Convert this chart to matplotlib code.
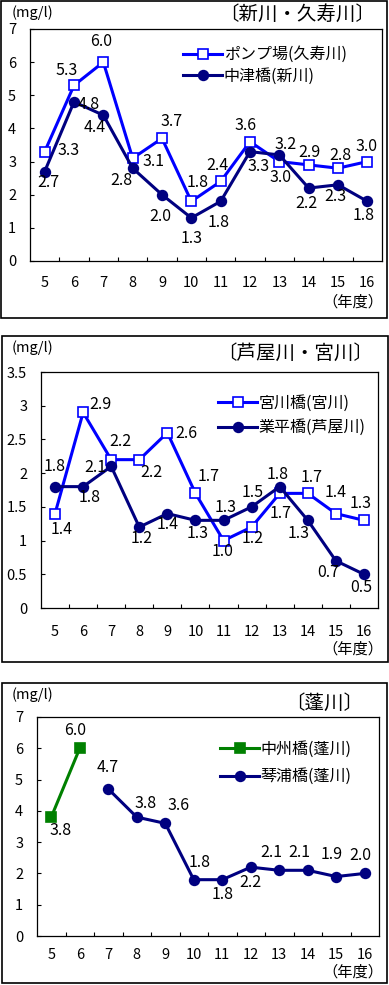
import numpy as np
import matplotlib
matplotlib.use("Agg")
import matplotlib.pyplot as plt
from matplotlib.patches import Rectangle
from matplotlib.ticker import FixedLocator

plt.rcParams['font.family'] = ['Noto Sans CJK JP', 'DejaVu Sans']

years = ["5", "6", "7", "8", "9", "10", "11", "12", "13", "14", "15", "16"]

# 新川・久寿川
pump_kusu = [3.3, 5.3, 6.0, 3.1, 3.7, 1.8, 2.4, 3.6, 3.0, 2.9, 2.8, 3.0]
nakatsu_shin = [2.7, 4.8, 4.4, 2.8, 2.0, 1.3, 1.8, 3.3, 3.2, 2.2, 2.3, 1.8]

# 芦屋川・宮川
miyagawa = [1.4, 2.9, 2.2, 2.2, 2.6, 1.7, 1.0, 1.2, 1.7, 1.7, 1.4, 1.3]
narihira = [1.8, 1.8, 2.1, 1.2, 1.4, 1.3, 1.3, 1.5, 1.8, 1.3, 0.7, 0.5]

# 蓬川
nakasu = [3.8, 6.0, None, None, None, None, None, None, None, None, None, None]
kotoura = [None, None, 4.7, 3.8, 3.6, 1.8, 1.8, 2.2, 2.1, 2.1, 1.9, 2.0]

# label offsets in pixels (dx right, dy up)
off_pump = [(24, 1), (-7, 15), (-2, 21), (21, -3), (10, 17), (6, 19),
            (-3, 16), (-4, 16), (1, -16), (1, 12), (2, 13), (-1, 15)]
off_naka = [(4, -11), (15, -3), (-9, -12), (-11, -12), (-2, -22), (0, -21),
            (-2, -21), (9, -15), (6, 10), (-2, -15), (-3, -12), (-4, -14)]
off_miya = [(7, -16), (17, 8), (9, 18), (12, -13), (19, -1), (13, 17),
            (-1, -11), (1, -11), (1, -20), (4, 16), (0, 21), (-3, 17)]
off_nari = [(0, 20), (7, -11), (-16, -1), (2, -11), (0, -11), (2, -13),
            (2, 13), (1, 14), (-2, 12), (-9, -13), (-8, -12), (-3, -13)]
off_nakasu = [(9, -13), (-5, 18)] + [(0, 0)] * 10
off_koto = [(0, 0), (0, 0), (-1, 21), (9, 14), (13, 18), (6, 17),
            (0, -15), (0, -15), (-8, 18), (-8, 18), (-5, 22), (-4, 18)]

BLUE = "#0000FF"
NAVY = "#000080"
GREEN = "#008000"
W, H = 389, 985
FS_LAB = 11.5   # data labels
FS_TICK = 10.5
FS_LEG = 11.5

fig = plt.figure(figsize=(W / 100, H / 100), dpi=100)


def rect(l, t, r, b):
    return [l / W, 1 - b / H, (r - l) / W, (b - t) / H]


def panel_box(l, t, r, b):
    fig.add_artist(Rectangle((l / W, 1 - b / H), (r - l) / W, (b - t) / H,
                             transform=fig.transFigure, fill=False,
                             ec="black", lw=1.2))


def series(ax, vals, offs, color, marker, face, label):
    x = np.arange(len(vals))
    y = np.array([np.nan if v is None else v for v in vals], dtype=float)
    ax.plot(x, y, color=color, lw=2.2, marker=marker, ms=7,
            mfc=face, mec=color, mew=1.2, label=label, clip_on=False, zorder=3)
    for xi, v, (dx, dy) in zip(x, vals, offs):
        if v is None:
            continue
        ax.annotate(f"{v:.1f}", (xi, v), xytext=(dx * 0.72, dy * 0.72),
                    textcoords="offset points", ha="center", va="center",
                    fontsize=FS_LAB, zorder=4)


def setup(ax, ymax, ystep, xpad, ylabels):
    ax.set_xlim(-0.5, 11.5)
    ax.set_ylim(0, ymax)
    ax.set_xticks(np.arange(12))
    ax.set_xticklabels(years, fontsize=FS_TICK)
    ax.xaxis.set_minor_locator(FixedLocator(np.arange(0.5, 11, 1.0)))
    ax.tick_params(axis="x", which="major", length=0, pad=xpad)
    ax.tick_params(axis="x", which="minor", direction="in", length=3, width=0.8)
    ax.set_yticks(np.arange(0, ymax + 1e-9, ystep))
    ax.set_yticklabels(ylabels, fontsize=FS_TICK)
    ax.tick_params(axis="y", direction="in", length=3, width=0.8, pad=10)
    for s in ax.spines.values():
        s.set_linewidth(0.9)


def legend(ax, x, y, spacing):
    ax.legend(loc="center left", bbox_to_anchor=(x, y), frameon=False,
              fontsize=FS_LEG, handlelength=2.45, handletextpad=0.1,
              borderpad=0, borderaxespad=0, labelspacing=spacing)


def texts(y_unit, title, title_x, title_y, y_year):
    fig.text(12 / W, 1 - y_unit / H, "(mg/l)", fontsize=10.5, va="center", ha="left")
    fig.text(title_x / W, 1 - title_y / H, title, fontsize=14, va="center", ha="right")
    fig.text(353 / W, 1 - y_year / H, "（年度）", fontsize=11, va="center", ha="center")


# ---- panel 1
panel_box(1, 1, 387, 318)
ax1 = fig.add_axes(rect(30, 29, 382, 261))
setup(ax1, 7, 1, 10.5, [str(i) for i in range(8)])
series(ax1, pump_kusu, off_pump, BLUE, "s", "white", "ポンプ場(久寿川)")
series(ax1, nakatsu_shin, off_naka, NAVY, "o", NAVY, "中津橋(新川)")
legend(ax1, (183 - 30) / 352, (261 - 65.5) / 232, 0.3)
texts(13, "〔新川・久寿川〕", 375, 14, 302)

# ---- panel 2
panel_box(2, 336, 388, 662)
ax2 = fig.add_axes(rect(41, 372, 378, 608))
setup(ax2, 3.5, 0.5, 12, ["0", "0.5", "1", "1.5", "2", "2.5", "3", "3.5"])
series(ax2, miyagawa, off_miya, BLUE, "s", "white", "宮川橋(宮川)")
series(ax2, narihira, off_nari, NAVY, "o", NAVY, "業平橋(芦屋川)")
legend(ax2, (218 - 41) / 337, (608 - 415.5) / 236, 0.45)
texts(348, "〔芦屋川・宮川〕", 373, 353, 649)

# ---- panel 3
panel_box(2, 683, 387, 983)
ax3 = fig.add_axes(rect(37, 717, 379, 936))
setup(ax3, 7, 1, 8.5, [str(i) for i in range(8)])
series(ax3, nakasu, off_nakasu, GREEN, "s", GREEN, "中州橋(蓬川)")
series(ax3, kotoura, off_koto, NAVY, "o", NAVY, "琴浦橋(蓬川)")
legend(ax3, (220 - 37) / 342, (936 - 763) / 219, 0.65)
texts(695, "〔蓬川〕", 363, 703, 972)

fig.savefig("out.png", dpi=100)
